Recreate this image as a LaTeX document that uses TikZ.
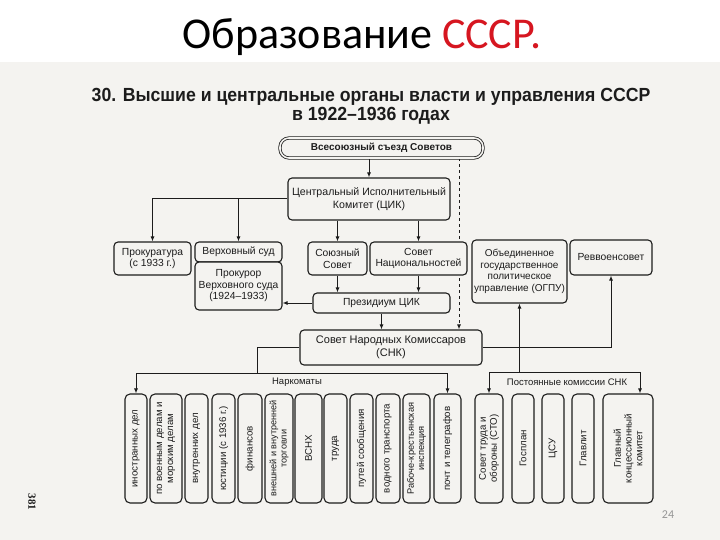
\documentclass[tikz,border=0pt]{standalone}
\usepackage{fontspec}
\setmainfont{Liberation Sans}
\newfontfamily\titlefont{Carlito}
\newfontfamily\pagefont{Liberation Serif}
\usetikzlibrary{arrows.meta}
\definecolor{paper}{RGB}{244,243,240}
\definecolor{ink}{RGB}{28,28,28}
\definecolor{titlered}{RGB}{214,22,32}
\definecolor{pgnum}{RGB}{150,150,150}
\pgfdeclarelayer{bg}
\pgfdeclarelayer{lines}
\pgfsetlayers{bg,lines,main}
\begin{document}
\begin{tikzpicture}[x=1pt,y=-1pt,
  box/.style={draw=ink, fill=paper, line width=1.1pt, rounded corners=4pt, align=center,
    font=\fontsize{10.3}{11.5}\selectfont, text=ink, inner sep=1pt},
  vbox/.style={box, rounded corners=5pt, rotate=90, minimum width=109pt, font=\fontsize{9.7}{10.8}\selectfont},
  arr/.style={-{Latex[length=5pt,width=4pt]}, line width=1pt, draw=ink},
  ln/.style={line width=1pt, draw=ink},
  lbl/.style={font=\fontsize{9.5}{11}\selectfont, text=ink, inner sep=1pt},
  subt/.style={font=\bfseries\fontsize{19}{19}\selectfont, text=ink, xscale=0.93}]
\useasboundingbox (0,0) rectangle (720,540);
\begin{pgfonlayer}{bg}
\fill[white] (0,0) rectangle (720,540);
\fill[paper] (0,62) rectangle (720,540);
\end{pgfonlayer}

% titles
\node (title) at (362,37) {\titlefont\fontsize{44}{44}\selectfont Образование \textcolor{titlered}{СССР.}};
\node[subt] (sub1) at (371,97) {30. Высшие и центральные органы власти и управления СССР};
\node[subt] (sub2) at (371,116) {в 1922–1936 годах};

% top
\node[box, font=\bfseries\fontsize{10}{11}\selectfont, rounded corners=9pt, double=paper, double distance=1.6pt, line width=0.8pt,
  minimum width=203pt, minimum height=20pt] (sezd) at (381.5,148) {Всесоюзный съезд Советов};
\node[box, minimum width=162pt, minimum height=42pt, font=\fontsize{10.6}{12.5}\selectfont] (cik) at (369,199) {Центральный Исполнительный\\Комитет (ЦИК)};

% second row
\node[box, minimum width=77pt, minimum height=33pt] (prok) at (152.5,258.5) {Прокуратура\\(с 1933 г.)};
\node[box, minimum width=87pt, minimum height=20pt] (vsud) at (238.5,252) {Верховный суд};
\node[box, minimum width=87pt, minimum height=48pt] (prokvs) at (238.5,286) {Прокурор\\Верховного суда\\(1924–1933)};
\node[box, minimum width=59pt, minimum height=33pt] (soyuz) at (337.5,258.5) {Союзный\\Совет};
\node[box, minimum width=97pt, minimum height=33pt] (natz) at (418.5,258.5) {Совет\\Национальностей};
\node[box, minimum width=95pt, minimum height=63pt, font=\fontsize{10}{11.5}\selectfont] (ogpu) at (519.5,271.5) {Объединенное\\государственное\\политическое\\управление (ОГПУ)};
\node[box, minimum width=82pt, minimum height=35pt] (rvs) at (611,257.5) {Реввоенсовет};
\node[box, minimum width=137pt, minimum height=20pt] (prez) at (381.5,303) {Президиум ЦИК};
\node[box, minimum width=182pt, minimum height=35pt, font=\fontsize{11}{13}\selectfont] (snk) at (391,347.5) {Совет Народных Комиссаров\\(СНК)};

% narkomaty
\node[vbox, minimum height=22pt] (nar1) at (136,448.5) {иностранных дел};
\node[vbox, minimum height=32pt] (nar2) at (166,448.5) {по военным делам и\\морским делам};
\node[vbox, minimum height=23pt] (nar3) at (196.5,448.5) {внутренних дел};
\node[vbox, minimum height=23pt] (nar4) at (223.5,448.5) {юстиции (с 1936 г.)};
\node[vbox, minimum height=24pt] (nar5) at (250,448.5) {финансов};
\node[vbox, minimum height=28pt, font=\fontsize{9.1}{10.2}\selectfont] (nar6) at (279,448.5) {внешней и внутренней\\торговли};
\node[vbox, minimum height=27pt] (nar7) at (308.5,448.5) {ВСНХ};
\node[vbox, minimum height=23pt] (nar8) at (335.5,448.5) {труда};
\node[vbox, minimum height=23pt] (nar9) at (361.5,448.5) {путей сообщения};
\node[vbox, minimum height=24pt] (nar10) at (388,448.5) {водного транспорта};
\node[vbox, minimum height=27pt, font=\fontsize{9.3}{10.4}\selectfont] (nar11) at (416.5,448.5) {Рабоче-крестьянская\\инспекция};
\node[vbox, minimum height=27pt] (nar12) at (447.5,448.5) {почт и телеграфов};

% commissions
\node[vbox, minimum height=28pt] (kom1) at (489,448.5) {Совет труда и\\обороны (СТО)};
\node[vbox, minimum height=22pt] (kom2) at (523,448.5) {Госплан};
\node[vbox, minimum height=22pt] (kom3) at (553,448.5) {ЦСУ};
\node[vbox, minimum height=22pt] (kom4) at (583,448.5) {Главлит};
\node[vbox, minimum height=50pt] (kom5) at (628,448.5) {Главный\\концессионный\\комитет};

\node[lbl] (lnar) at (297,382) {Наркоматы};
\node[lbl] (lkom) at (567,382) {Постоянные комиссии СНК};

% connectors
\begin{pgfonlayer}{lines}
\draw[arr] (sezd.south -| cik.north) -- (cik.north);
\coordinate (dtop) at (459,158);
\draw[arr, dashed] (dtop) -- (dtop |- snk.north);
\draw[arr] (cik.west) -| (prok.north);
\draw[arr] (cik.west -| vsud.north) -- (vsud.north);
\draw[arr] (cik.south -| soyuz.north) -- (soyuz.north);
\draw[arr] (cik.south -| natz.north) -- (natz.north);
\draw[arr] (soyuz.south) -- (soyuz.south |- prez.north);
\draw[arr] (natz.south) -- (natz.south |- prez.north);
\draw[arr] (prez.west) -- (prez.west -| prokvs.east);
\draw[arr] (prez.south) -- (prez.south |- snk.north);
\draw[arr] (snk.east) -| (rvs.south);
\coordinate (kt) at (519.5,372);
\draw[arr] (kt) -- (ogpu.south);
\coordinate (kr) at (640,372);
\draw[arr] (kt) -| (kom1.east);
\draw[arr] (kt) -- (kr) -- (kr |- kom5.east);
\coordinate (nl) at (257,373);
\draw[ln] (snk.west) -| (nl);
\draw[arr] (nl) -| (nar1.east);
\draw[arr] (nl) -| (nar12.east);
\end{pgfonlayer}

% page marks
\node[font=\pagefont\bfseries\fontsize{11}{11}\selectfont, rotate=-90, text=ink] (p381) at (32,502) {381};
\node[font=\titlefont\fontsize{12}{12}\selectfont, text=pgnum] (p24) at (668,515) {24};
\end{tikzpicture}
\end{document}
